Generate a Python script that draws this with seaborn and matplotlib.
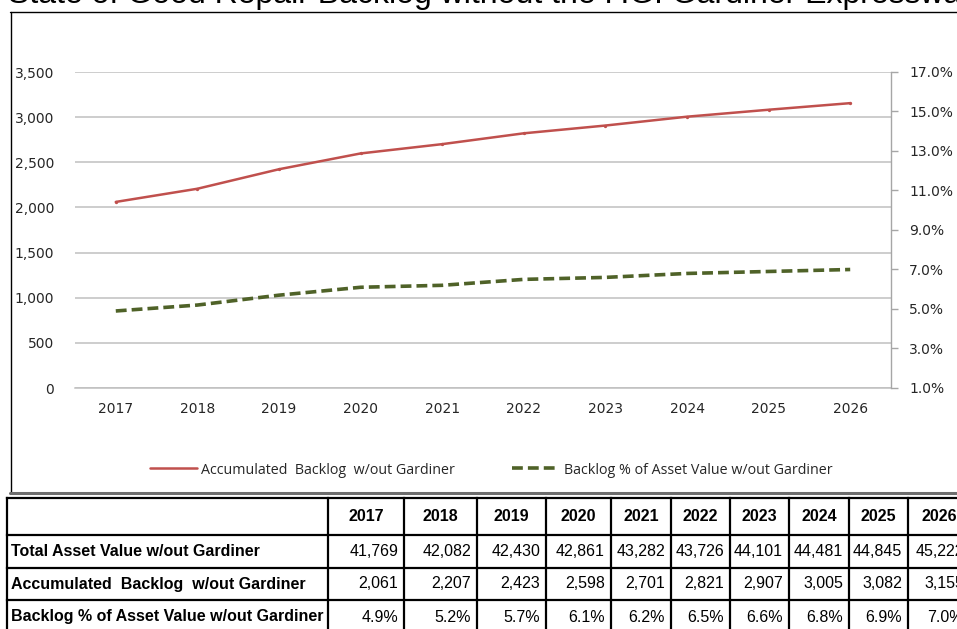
import matplotlib
matplotlib.use('Agg')
import matplotlib.pyplot as plt
from matplotlib import font_manager
from matplotlib.lines import Line2D
import seaborn as sns
import pandas as pd

# ---------------- data ----------------
years = [2017, 2018, 2019, 2020, 2021, 2022, 2023, 2024, 2025, 2026]
total_asset_value = [41769, 42082, 42430, 42861, 43282, 43726, 44101, 44481, 44845, 45222]
accumulated_backlog = [2061, 2207, 2423, 2598, 2701, 2821, 2907, 3005, 3082, 3155]
backlog_pct = [4.9, 5.2, 5.7, 6.1, 6.2, 6.5, 6.6, 6.8, 6.9, 7.0]

title = "State of Good Repair Backlog without the F.G. Gardiner Expressway"
series_labels = ["Accumulated  Backlog  w/out Gardiner",
                 "Backlog % of Asset Value w/out Gardiner"]
row_labels = ["Total Asset Value w/out Gardiner",
              "Accumulated  Backlog  w/out Gardiner",
              "Backlog % of Asset Value w/out Gardiner"]
left_ticks = [0, 500, 1000, 1500, 2000, 2500, 3000, 3500]
right_ticks = [1.0, 3.0, 5.0, 7.0, 9.0, 11.0, 13.0, 15.0, 17.0]

RED = '#C0504D'
GREEN = '#4F6228'

sns.set_theme(style='white')
plt.rcParams['font.family'] = ['DejaVu Sans']

W, H = 957, 629
fig = plt.figure(figsize=(W / 100, H / 100), dpi=100)
fig.patch.set_facecolor('white')


def fx(px):
    return px / W


def fy(py):
    return 1 - py / H


# -------- title (cut at top as in reference) --------
fig.text(fx(8), fy(3), title, fontsize=23, family=['Liberation Sans', 'DejaVu Sans'],
         ha='left', va='baseline', color='black')

# -------- chart frame --------
fig.add_artist(Line2D([fx(10.5), fx(10.5)], [fy(12), fy(493)], transform=fig.transFigure,
                      color='black', lw=1.0))
fig.add_artist(Line2D([fx(10), fx(960)], [fy(12), fy(12)], transform=fig.transFigure,
                      color='black', lw=1.0))
fig.add_artist(Line2D([fx(10), fx(960)], [fy(493), fy(493)], transform=fig.transFigure,
                      color='#6E6E6E', lw=2.2))

# -------- line chart --------
df = pd.DataFrame({'Year': years, 'Backlog': accumulated_backlog, 'Pct': backlog_pct})

ax = fig.add_axes([fx(75), fy(388), (891 - 75) / W, (388 - 72) / H])
ax.set_facecolor('none')
sns.lineplot(data=df, x='Year', y='Backlog', ax=ax, color=RED, lw=1.8,
             marker='o', markersize=2.4, markeredgewidth=0)
ax.set_xlim(2016.5, 2026.5)
ax.set_ylim(0, 3500)
ax.set_yticks(left_ticks)
ax.set_yticklabels([f"{v:,}" for v in left_ticks])
ax.set_xticks(years)
ax.set_xticklabels([str(y) for y in years])
ax.set_xlabel('')
ax.set_ylabel('')
ax.yaxis.grid(True, color='#C0C0C0', lw=1.1)
ax.xaxis.grid(False)
ax.set_axisbelow(True)
for s in ['left', 'top', 'right']:
    ax.spines[s].set_visible(False)
ax.spines['bottom'].set_color('#BFBFBF')
ax.spines['bottom'].set_linewidth(1.1)
ax.tick_params(axis='y', length=0, pad=15, labelsize=10, labelcolor='#262626')
ax.tick_params(axis='x', length=0, pad=10, labelsize=10, labelcolor='#262626')

ax2 = ax.twinx()
sns.lineplot(data=df, x='Year', y='Pct', ax=ax2, color=GREEN, lw=2.6)
ax2.lines[0].set_dashes([3.0, 1.4])
ax2.set_ylim(1, 17)
ax2.set_yticks(right_ticks)
ax2.set_yticklabels([f"{v:.1f}%" for v in right_ticks])
ax2.set_ylabel('')
for s in ['left', 'top', 'bottom']:
    ax2.spines[s].set_visible(False)
ax2.spines['right'].set_color('#A6A6A6')
ax2.spines['right'].set_linewidth(1.0)
ax2.tick_params(axis='y', length=5, width=1.0, color='#A6A6A6', direction='out',
                pad=8, labelsize=10, labelcolor='#262626')
ax2.grid(False)

# -------- legend --------
handles = [Line2D([], [], color=RED, lw=1.8),
           Line2D([], [], color=GREEN, lw=2.6, dashes=[3.0, 1.4])]
fig.legend(handles, series_labels, loc='center', bbox_to_anchor=(fx(491), fy(470)),
           ncol=2, frameon=False, handlelength=3.3, handletextpad=0.3,
           columnspacing=4.0, prop={'family': ['Open Sans', 'DejaVu Sans'], 'size': 10.3})

# -------- data table --------
try:
    font_manager.findfont(font_manager.FontProperties(family='Liberation Sans Narrow'),
                          fallback_to_default=False)
    tfam = ['Liberation Sans Narrow', 'Liberation Sans']
    tsize = 13.2
except Exception:
    tfam = ['Liberation Sans']
    tsize = 11.5

axt = fig.add_axes([0, 0, 1, 1])
axt.set_xlim(0, W)
axt.set_ylim(H, 0)
axt.axis('off')

col_edges = [7, 328, 404, 477, 546, 611, 671, 730, 789, 849, 908, 970]
row_edges = [498, 535, 568, 600, 634]
for yv in row_edges:
    axt.plot([col_edges[0], col_edges[-1]], [yv, yv], color='black', lw=1.6,
             solid_capstyle='projecting')
for xv in col_edges:
    axt.plot([xv, xv], [row_edges[0], row_edges[-1]], color='black', lw=1.6,
             solid_capstyle='projecting')


def rc(i):
    return (row_edges[i] + row_edges[i + 1]) / 2


for j, y in enumerate(years):
    cx = (col_edges[j + 1] + col_edges[j + 2]) / 2
    axt.text(cx, rc(0), str(y), ha='center', va='center', fontsize=tsize,
             family=tfam, fontweight='bold', color='black')

rows_vals = [[f"{v:,}" for v in total_asset_value],
             [f"{v:,}" for v in accumulated_backlog],
             [f"{v:.1f}%" for v in backlog_pct]]
for i, (lab, vals) in enumerate(zip(row_labels, rows_vals)):
    axt.text(11, rc(i + 1), lab, ha='left', va='center', fontsize=tsize,
             family=tfam, fontweight='bold', color='black')
    for j, v in enumerate(vals):
        axt.text(col_edges[j + 2] - 6, rc(i + 1), v, ha='right', va='center',
                 fontsize=tsize, family=tfam, color='black')

fig.savefig('out.png', dpi=100)
